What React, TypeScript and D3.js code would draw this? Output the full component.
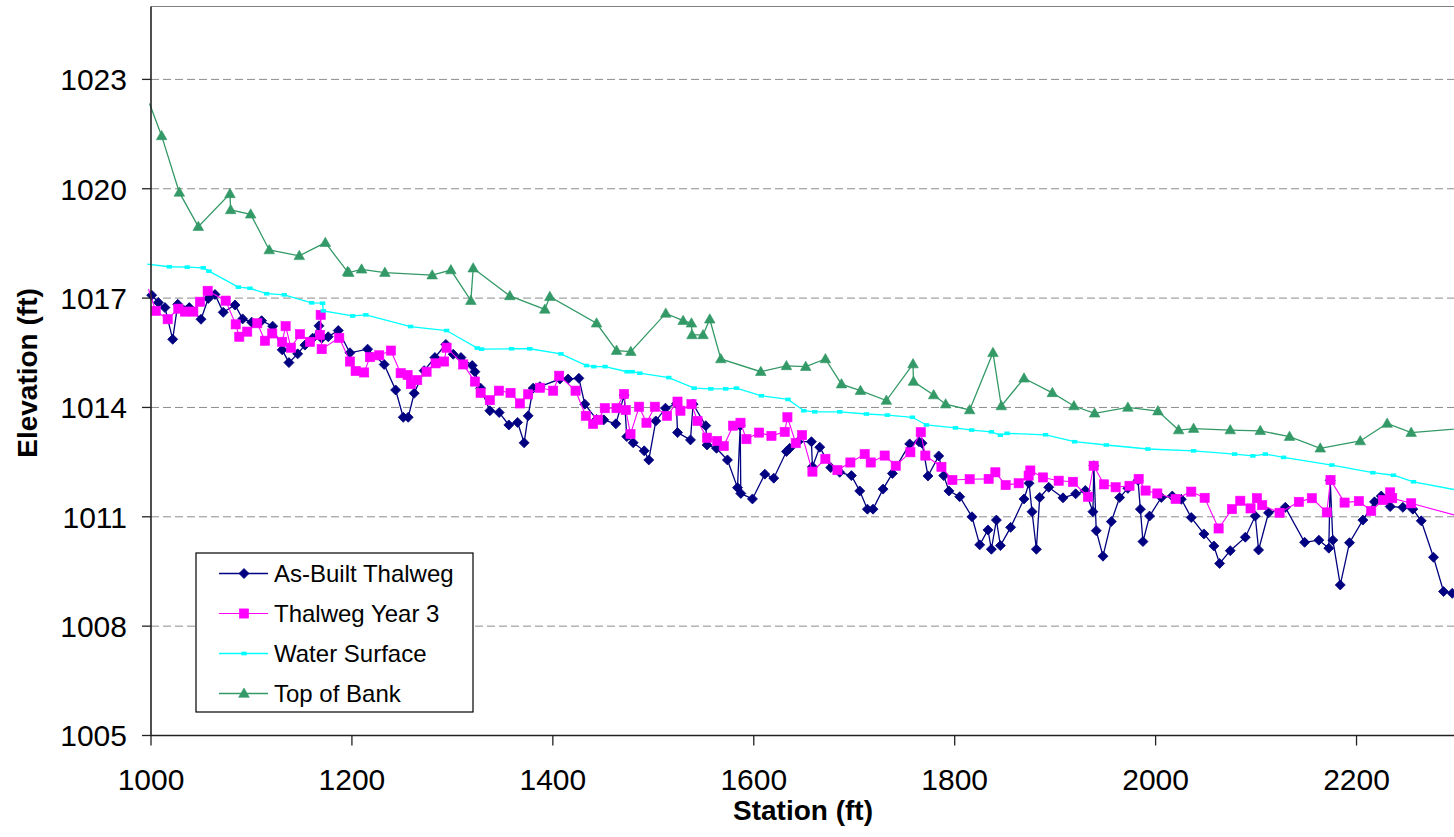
import React from "react";
import * as d3 from "d3";

// ---------- DATA ----------
const asBuiltStation = [1000.7,1007.3,1013.9,1021.6,1026.6,1038.1,1049.8,1057.0,1063.7,1071.9,1083.6,1091.2,1100.2,1110.1,1121.1,1130.6,1137.3,1146.0,1153.2,1160.9,1167.2,1169.9,1176.4,1186.4,1198.0,1215.6,1232.1,1243.5,1251.1,1256.0,1262.0,1271.9,1282.6,1293.5,1300.8,1308.5,1319.7,1322.4,1328.1,1337.3,1346.6,1356.2,1364.9,1371.4,1375.4,1380.4,1387.1,1407.0,1415.2,1425.9,1431.8,1443.5,1450.7,1462.7,1471.0,1473.6,1480.0,1490.9,1495.5,1502.5,1512.1,1523.0,1524.1,1537.0,1539.6,1552.2,1553.5,1562.9,1573.8,1583.8,1586.5,1587.1,1598.7,1611.0,1619.9,1632.5,1635.8,1644.1,1657.4,1658.4,1665.7,1676.6,1685.6,1697.2,1705.5,1713.1,1718.7,1728.7,1738.0,1755.2,1764.5,1767.5,1773.4,1784.1,1789.1,1794.3,1805.0,1817.2,1824.9,1833.1,1836.5,1841.5,1845.5,1855.7,1869.0,1874.0,1877.0,1881.3,1884.6,1893.6,1907.8,1920.4,1930.0,1937.6,1938.5,1940.9,1947.6,1955.9,1964.2,1972.4,1982.5,1984.8,1987.4,1994.0,2005.7,2016.6,2025.6,2035.5,2048.1,2058.0,2063.7,2074.3,2089.3,2099.2,2102.5,2112.4,2129.1,2148.3,2162.5,2172.4,2173.8,2176.4,2183.8,2193.0,2206.3,2217.9,2224.6,2233.5,2246.1,2256.0,2264.4,2276.6,2286.6,2295.2];
const asBuiltElev = [1017.08,1016.88,1016.74,1015.87,1016.83,1016.74,1016.42,1016.99,1017.10,1016.61,1016.81,1016.43,1016.34,1016.38,1016.23,1015.58,1015.23,1015.47,1015.71,1015.90,1016.24,1015.90,1015.94,1016.11,1015.50,1015.60,1015.18,1014.48,1013.73,1013.73,1014.39,1015.01,1015.37,1015.73,1015.46,1015.37,1015.15,1014.98,1014.53,1013.91,1013.86,1013.52,1013.59,1013.03,1013.77,1014.53,1014.57,1014.78,1014.78,1014.80,1014.09,1013.67,1013.66,1013.55,1014.34,1013.20,1013.03,1012.81,1012.56,1013.63,1013.98,1014.10,1013.31,1013.11,1014.09,1013.50,1012.97,1012.88,1012.56,1011.80,1013.50,1011.64,1011.49,1012.17,1012.06,1012.79,1012.88,1013.06,1013.06,1012.37,1012.91,1012.35,1012.22,1012.13,1011.71,1011.21,1011.21,1011.76,1012.19,1013.00,1013.06,1013.02,1012.12,1012.67,1012.13,1011.71,1011.55,1011.00,1010.23,1010.64,1010.11,1010.91,1010.21,1010.71,1011.49,1011.92,1011.14,1010.11,1011.53,1011.81,1011.52,1011.63,1011.72,1011.14,1012.40,1010.62,1009.92,1010.87,1011.53,1011.78,1012.00,1011.21,1010.32,1011.02,1011.53,1011.57,1011.48,1010.98,1010.53,1010.20,1009.72,1010.07,1010.44,1011.02,1010.09,1011.11,1011.26,1010.30,1010.36,1010.14,1012.00,1010.36,1009.13,1010.29,1010.91,1011.41,1011.57,1011.28,1011.26,1011.21,1010.89,1009.89,1008.95,1008.90];

const year3Station = [997.5,1004.7,1016.6,1027.2,1033.8,1042.1,1048.8,1056.4,1074.3,1084.3,1087.9,1095.8,1105.8,1113.4,1120.7,1130.6,1134.0,1139.3,1148.3,1158.2,1168.2,1168.9,1169.9,1187.4,1198.0,1203.7,1212.2,1217.9,1227.2,1238.8,1248.5,1255.4,1258.7,1265.0,1274.3,1283.3,1291.8,1294.2,1310.8,1322.4,1328.1,1337.3,1346.3,1357.9,1367.2,1375.4,1387.1,1400.3,1406.3,1422.6,1432.8,1440.1,1445.1,1451.7,1463.4,1470.9,1472.6,1477.3,1485.9,1493.2,1501.5,1513.7,1524.1,1527.0,1538.0,1544.0,1553.5,1563.5,1570.1,1579.4,1586.8,1592.7,1605.3,1617.6,1630.8,1633.5,1641.8,1648.1,1658.4,1671.3,1683.3,1696.2,1710.4,1716.4,1730.3,1741.3,1755.9,1766.2,1770.8,1786.8,1797.7,1814.9,1833.8,1840.5,1850.7,1863.7,1873.6,1875.3,1887.9,1903.5,1917.7,1932.6,1938.3,1948.6,1960.2,1974.0,1983.1,1990.0,2001.7,2019.9,2035.5,2048.8,2062.7,2076.0,2084.3,2094.5,2100.8,2106.1,2123.4,2142.6,2155.5,2170.4,2174.1,2188.1,2202.3,2214.6,2226.2,2233.5,2235.5,2254.4,2320.0];
const year3Elev = [1017.25,1016.65,1016.42,1016.71,1016.63,1016.63,1016.90,1017.20,1016.93,1016.28,1015.94,1016.08,1016.31,1015.83,1016.03,1015.80,1016.23,1015.64,1016.01,1015.80,1015.99,1016.54,1015.60,1015.91,1015.26,1015.00,1014.96,1015.38,1015.43,1015.56,1014.94,1014.89,1014.64,1014.75,1014.98,1015.21,1015.26,1015.64,1015.18,1014.71,1014.40,1014.20,1014.46,1014.40,1014.11,1014.36,1014.54,1014.46,1014.87,1014.46,1013.77,1013.55,1013.66,1013.98,1013.98,1014.37,1013.93,1013.27,1014.02,1013.58,1014.02,1013.77,1014.16,1013.91,1014.09,1013.63,1013.17,1013.08,1012.94,1013.50,1013.58,1013.13,1013.31,1013.22,1013.33,1013.73,1013.02,1013.24,1012.24,1012.59,1012.28,1012.49,1012.72,1012.49,1012.68,1012.40,1012.77,1013.32,1012.68,1012.37,1012.01,1012.03,1012.04,1012.22,1011.87,1011.92,1012.13,1012.27,1012.08,1011.99,1011.96,1011.55,1012.40,1011.89,1011.81,1011.85,1012.04,1011.72,1011.64,1011.49,1011.69,1011.52,1010.68,1011.21,1011.44,1011.23,1011.51,1011.32,1011.11,1011.41,1011.51,1011.12,1012.01,1011.39,1011.43,1011.16,1011.46,1011.67,1011.51,1011.37,1010.88];

const waterStation = [996.3,1018.2,1036.1,1052.0,1057.7,1086.9,1098.5,1115.1,1132.6,1159.9,1170.8,1171.5,1200.7,1213.9,1258.4,1294.2,1324.7,1329.1,1358.9,1377.1,1408.0,1433.5,1440.8,1452.0,1473.9,1478.9,1486.6,1515.4,1540.6,1557.2,1572.1,1582.8,1607.6,1634.1,1649.8,1660.7,1685.6,1712.1,1733.0,1757.9,1771.8,1800.7,1816.9,1836.5,1845.5,1852.1,1890.5,1919.4,1950.9,1992.3,2037.8,2078.6,2096.8,2109.2,2127.4,2175.4,2216.2,2236.8,2256.7,2320.0];
const waterElev = [1017.93,1017.86,1017.85,1017.83,1017.74,1017.30,1017.27,1017.12,1017.09,1016.87,1016.86,1016.65,1016.51,1016.54,1016.22,1016.11,1015.63,1015.60,1015.61,1015.61,1015.47,1015.15,1015.12,1015.12,1014.98,1014.98,1014.94,1014.82,1014.53,1014.51,1014.51,1014.53,1014.32,1014.22,1013.91,1013.88,1013.88,1013.82,1013.79,1013.73,1013.52,1013.44,1013.38,1013.33,1013.24,1013.29,1013.25,1013.06,1012.97,1012.86,1012.81,1012.72,1012.67,1012.72,1012.63,1012.42,1012.21,1012.14,1011.96,1011.63];

const bankStation = [998.5,1010.6,1028.2,1047.1,1078.6,1079.3,1099.2,1117.7,1147.6,1173.5,1195.7,1196.9,1209.6,1232.8,1279.9,1298.5,1318.4,1320.7,1357.2,1392.0,1397.0,1443.5,1463.4,1477.6,1512.4,1529.7,1538.0,1538.5,1549.5,1556.2,1567.2,1607.0,1632.5,1651.7,1671.3,1687.3,1706.2,1732.0,1758.5,1759.0,1779.1,1791.0,1814.9,1838.1,1846.4,1869.0,1897.2,1918.7,1939.3,1972.4,2002.3,2022.9,2037.8,2074.3,2104.2,2133.3,2163.9,2203.7,2230.5,2254.4,2320.0];
const bankElev = [1022.34,1021.45,1019.90,1018.96,1019.86,1019.42,1019.30,1018.32,1018.16,1018.52,1017.72,1017.70,1017.79,1017.70,1017.63,1017.77,1016.93,1017.82,1017.06,1016.69,1017.04,1016.31,1015.56,1015.53,1016.58,1016.38,1016.31,1015.99,1015.99,1016.42,1015.33,1014.98,1015.14,1015.12,1015.33,1014.64,1014.46,1014.19,1015.19,1014.71,1014.34,1014.09,1013.93,1015.50,1014.04,1014.80,1014.40,1014.04,1013.84,1014.00,1013.90,1013.38,1013.42,1013.38,1013.36,1013.20,1012.88,1013.08,1013.56,1013.31,1013.46];

const xTicks = [1000, 1200, 1400, 1600, 1800, 2000, 2200];
const yTicks = [1005, 1008, 1011, 1014, 1017, 1020, 1023];
const seriesNames = ["As-Built Thalweg", "Thalweg Year 3", "Water Surface", "Top of Bank"];

// ---------- LAYOUT ----------
const W = 1454;
const H = 837;
const LEFT = 151;
const RIGHT = 1457;
const TOP = 6.5;
const BOTTOM = 735.5;
const FONT = "'Liberation Sans', Arial, Helvetica, sans-serif";

const x = d3.scaleLinear().domain([1000, 2300]).range([LEFT, RIGHT]);
const y = d3.scaleLinear().domain([1005, 1025]).range([BOTTOM, TOP]);

type Pt = { s: number; e: number };
const zip = (a: number[], b: number[]): Pt[] => a.map((s, i) => ({ s, e: b[i] }));

const series = [
  { name: seriesNames[0], data: zip(asBuiltStation, asBuiltElev), color: "#000080", marker: "diamond", width: 1.3 },
  { name: seriesNames[1], data: zip(year3Station, year3Elev), color: "#FF00FF", marker: "square", width: 1.1 },
  { name: seriesNames[2], data: zip(waterStation, waterElev), color: "#00FFFF", marker: "small", width: 1.3 },
  { name: seriesNames[3], data: zip(bankStation, bankElev), color: "#339966", marker: "triangle", width: 1.3 },
];

const line = d3
  .line<Pt>()
  .x((d) => x(d.s))
  .y((d) => y(d.e));

function Marker({ type, cx, cy, color }: { type: string; cx: number; cy: number; color: string }) {
  if (type === "diamond") {
    const r = 5;
    return (
      <path
        d={`M${cx},${cy - r}L${cx + r},${cy}L${cx},${cy + r}L${cx - r},${cy}Z`}
        fill={color}
        stroke={color}
        strokeWidth={0.8}
      />
    );
  }
  if (type === "square") {
    const r = 4.6;
    return <rect x={cx - r} y={cy - r} width={2 * r} height={2 * r} fill={color} stroke={color} strokeWidth={0.6} />;
  }
  if (type === "small") {
    return <rect x={cx - 2.7} y={cy - 1.8} width={5.4} height={3.6} fill={color} />;
  }
  // triangle
  const w = 5.3;
  return (
    <path
      d={`M${cx},${cy - 5.5}L${cx + w},${cy + 3.8}L${cx - w},${cy + 3.8}Z`}
      fill={color}
      stroke={color}
      strokeWidth={0.6}
    />
  );
}

export default function App() {
  const legendItems = series;
  return (
    <svg
      width={W}
      height={H}
      viewBox={`0 0 ${W} ${H}`}
      style={{ position: "absolute", left: 0, top: 0, background: "#fff", overflow: "hidden" }}
      fontFamily={FONT}
    >
      <defs>
        <clipPath id="lineClip">
          <rect x={146} y={TOP} width={RIGHT - 146} height={BOTTOM - TOP} />
        </clipPath>
        <clipPath id="markClip">
          <rect x={LEFT - 6} y={TOP} width={RIGHT - LEFT + 6} height={BOTTOM - TOP + 6} />
        </clipPath>
      </defs>
      <rect x={0} y={0} width={W} height={H} fill="#fff" />

      {/* gridlines */}
      {yTicks
        .filter((t) => t > 1005)
        .map((t) => (
          <line
            key={"g" + t}
            x1={LEFT}
            x2={RIGHT}
            y1={y(t)}
            y2={y(t)}
            stroke="#8c8c8c"
            strokeWidth={1}
            strokeDasharray="8 4"
          />
        ))}

      {/* top border */}
      <line x1={LEFT} x2={RIGHT} y1={TOP} y2={TOP} stroke="#808080" strokeWidth={1} />

      {/* series */}
      {series.map((sr) => (
        <g key={sr.name}>
          <path
            d={line(sr.data) || ""}
            fill="none"
            stroke={sr.color}
            strokeWidth={sr.width}
            clipPath="url(#lineClip)"
          />
          <g clipPath="url(#markClip)">
            {sr.data
              .filter((d) => d.s >= 1000 && d.s <= 2302)
              .map((d, i) => (
                <Marker key={i} type={sr.marker} cx={x(d.s)} cy={y(d.e)} color={sr.color} />
              ))}
          </g>
        </g>
      ))}

      {/* axes */}
      <line x1={LEFT} x2={LEFT} y1={TOP} y2={BOTTOM} stroke="#222" strokeWidth={1.6} />
      <line x1={LEFT} x2={RIGHT} y1={BOTTOM} y2={BOTTOM} stroke="#222" strokeWidth={1.6} />
      {yTicks.map((t) => (
        <g key={"yt" + t}>
          <line x1={LEFT - 9} x2={LEFT} y1={y(t)} y2={y(t)} stroke="#222" strokeWidth={1.3} />
          <text x={127} y={y(t)} dy="0.36em" textAnchor="end" fontSize={30} fill="#000">
            {t}
          </text>
        </g>
      ))}
      {xTicks.map((t) => (
        <g key={"xt" + t}>
          <line x1={x(t)} x2={x(t)} y1={BOTTOM} y2={BOTTOM + 10} stroke="#222" strokeWidth={1.3} />
          <text x={x(t)} y={790} textAnchor="middle" fontSize={30} fill="#000">
            {t}
          </text>
        </g>
      ))}

      {/* axis titles */}
      <text x={803} y={820} textAnchor="middle" fontSize={28} fontWeight="bold" fill="#000">
        Station (ft)
      </text>
      <text
        transform={`translate(37,373) rotate(-90)`}
        textAnchor="middle"
        fontSize={28}
        fontWeight="bold"
        fill="#000"
      >
        Elevation (ft)
      </text>

      {/* legend */}
      <g>
        <rect x={196} y={553} width={277} height={159} fill="#fff" stroke="#000" strokeWidth={1.2} />
        {legendItems.map((sr, i) => {
          const cy = 573.5 + i * 40;
          return (
            <g key={"lg" + sr.name}>
              <line x1={219} x2={268} y1={cy} y2={cy} stroke={sr.color} strokeWidth={sr.width} />
              <Marker type={sr.marker} cx={244} cy={cy} color={sr.color} />
              <text x={274} y={cy} dy="0.36em" fontSize={24} fill="#000">
                {sr.name}
              </text>
            </g>
          );
        })}
      </g>
    </svg>
  );
}
